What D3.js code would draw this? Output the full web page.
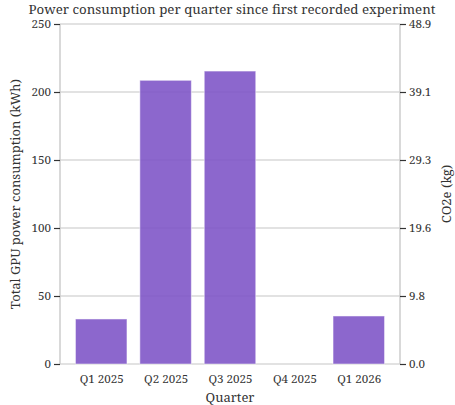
<!DOCTYPE html>
<html>
<head>
<meta charset="utf-8">
<script src="https://cdn.jsdelivr.net/npm/d3@7"></script>
<style>
  body { margin: 0; background: #fff; }
  text { font-family: 'Noto Serif', 'DejaVu Serif', serif; fill: #333; }
</style>
</head>
<body>
<svg id="chart" width="455" height="405"></svg>
<script>
const quarters = ['Q1 2025', 'Q2 2025', 'Q3 2025', 'Q4 2025', 'Q1 2026'];
const energyKwh = [33.1, 208.6, 215.4, 0, 35.3];
const leftTicks = [0, 50, 100, 150, 200, 250];
const co2Factor = 0.1956; // kg CO2e per kWh

const svg = d3.select('#chart');
const margin = { top: 24, right: 55, bottom: 41, left: 60 };
const width = 455 - margin.left - margin.right;
const height = 405 - margin.top - margin.bottom;

// bars sit on integer positions, matplotlib-style margins
const x = d3.scaleLinear().domain([-0.64, 4.64]).range([0, width]);
const y = d3.scaleLinear().domain([0, 250]).range([height, 0]);
const barW = x(0.4) - x(-0.4);

const g = svg.append('g').attr('transform', `translate(${margin.left},${margin.top})`);

// grid
g.append('g')
  .selectAll('line')
  .data(leftTicks)
  .enter()
  .append('line')
  .attr('x1', 0).attr('x2', width)
  .attr('y1', d => y(d)).attr('y2', d => y(d))
  .attr('stroke', '#d9d9d9')
  .attr('stroke-width', 1.5);

// bars
g.append('g')
  .selectAll('rect')
  .data(energyKwh)
  .enter()
  .append('rect')
  .attr('x', (d, i) => x(i) - barW / 2)
  .attr('y', d => y(d))
  .attr('width', barW)
  .attr('height', d => height - y(d))
  .attr('fill', '#7f57c8')
  .attr('fill-opacity', 0.9)
  .attr('stroke', '#ffffff')
  .attr('stroke-opacity', 0.5)
  .attr('stroke-width', 1);

// spines
[0, width].forEach(px => {
  g.append('line')
    .attr('x1', px).attr('x2', px)
    .attr('y1', 0).attr('y2', height)
    .attr('stroke', '#cccccc')
    .attr('stroke-width', 1.5);
});

const styleAxis = sel => {
  sel.select('.domain').remove();
  sel.selectAll('.tick line').attr('stroke', '#333').attr('stroke-width', 1.2);
  sel.selectAll('.tick text').attr('font-size', 11.6).attr('fill', '#333')
    .style('font-family', "'Noto Serif', 'DejaVu Serif', serif");
};

g.append('g')
  .call(d3.axisLeft(y).tickValues(leftTicks).tickSize(6).tickPadding(3))
  .call(styleAxis);

g.append('g')
  .attr('transform', `translate(${width},0)`)
  .call(d3.axisRight(y).tickValues(leftTicks).tickSize(6).tickPadding(3)
    .tickFormat(d => (d * co2Factor).toFixed(1)))
  .call(styleAxis);

g.append('g')
  .attr('transform', `translate(0,${height})`)
  .call(d3.axisBottom(x).tickValues(d3.range(quarters.length)).tickSize(0).tickPadding(11)
    .tickFormat(i => quarters[i]))
  .call(styleAxis);

// labels
svg.append('text')
  .attr('x', margin.left + width / 2 + 2)
  .attr('y', 13.5)
  .attr('text-anchor', 'middle')
  .attr('font-size', 13.3)
  .text('Power consumption per quarter since first recorded experiment');

svg.append('text')
  .attr('x', margin.left + width / 2)
  .attr('y', 402)
  .attr('text-anchor', 'middle')
  .attr('font-size', 13)
  .text('Quarter');

svg.append('text')
  .attr('transform', `translate(20,${margin.top + height / 2}) rotate(-90)`)
  .attr('text-anchor', 'middle')
  .attr('font-size', 13)
  .text('Total GPU power consumption (kWh)');

svg.append('text')
  .attr('transform', `translate(451,${margin.top + height / 2}) rotate(-90)`)
  .attr('text-anchor', 'middle')
  .attr('font-size', 13)
  .text('CO2e (kg)');
</script>
</body>
</html>
